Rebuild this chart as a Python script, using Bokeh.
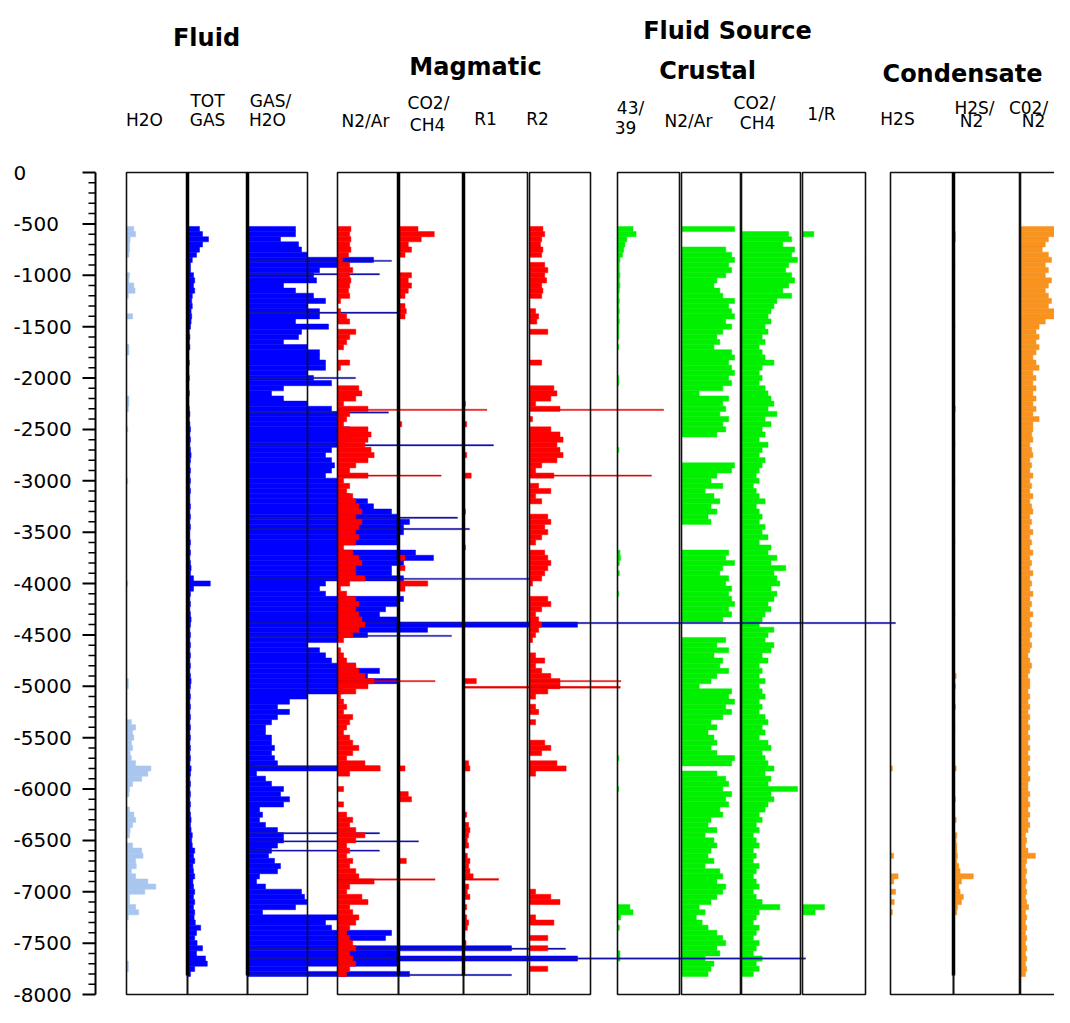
from bokeh.plotting import figure
from bokeh.models import Range1d
from bokeh.embed import file_html
from bokeh.resources import INLINE
from bokeh.core.properties import value

# ======================= DATA =======================
# depth bins (ft, negative = below datum), 50 ft apart
DEPTH = list(range(-550, -7801, -50))

# dense tracks: values as fraction of the track width (values > 1 overflow to the right)
TOT_GAS = [
    0.20, 0.25, 0.35, 0.25, 0.20, 0.15, 0.08, 0.05, 0.05, 0.10,
    0.12, 0.10, 0.12, 0.08, 0.07, 0.08, 0.06, 0.07, 0.06, 0.05,
    0.03, 0.04, 0.03, 0.04, 0.02, 0.02, 0.03, 0.02, 0.02, 0.03,
    0.02, 0.02, 0.03, 0.02, 0.02, 0.03, 0.04, 0.03, 0.04, 0.05,
    0.04, 0.05, 0.04, 0.05, 0.06, 0.05, 0.04, 0.05, 0.04, 0.05,
    0.04, 0.05, 0.04, 0.04, 0.05, 0.04, 0.05, 0.04, 0.05, 0.04,
    0.04, 0.05, 0.04, 0.05, 0.04, 0.05, 0.06, 0.05, 0.10, 0.38,
    0.10, 0.05, 0.04, 0.05, 0.04, 0.05, 0.06, 0.05, 0.04, 0.05,
    0.04, 0.05, 0.04, 0.05, 0.04, 0.05, 0.04, 0.05, 0.06, 0.05,
    0.04, 0.05, 0.04, 0.05, 0.04, 0.05, 0.04, 0.05, 0.04, 0.05,
    0.04, 0.05, 0.04, 0.05, 0.04, 0.06, 0.05, 0.04, 0.05, 0.04,
    0.05, 0.04, 0.05, 0.04, 0.05, 0.06, 0.05, 0.06, 0.08, 0.07,
    0.08, 0.12, 0.10, 0.12, 0.09, 0.10, 0.12, 0.09, 0.10, 0.12,
    0.10, 0.12, 0.10, 0.12, 0.11, 0.13, 0.22, 0.15, 0.12, 0.16,
    0.25, 0.15, 0.30, 0.33, 0.12, 0.05,
]

GAS_H2O = [
    0.80, 0.80, 0.55, 0.85, 0.90, 1.00, 2.10, 1.50, 1.20, 1.10,
    1.15, 0.60, 0.80, 1.10, 1.30, 1.00, 1.20, 1.20, 0.80, 1.35,
    0.90, 0.85, 0.60, 1.00, 1.20, 1.20, 1.30, 1.30, 1.00, 1.10,
    1.40, 0.60, 0.40, 0.60, 1.00, 1.40, 1.50, 1.60, 1.50, 1.70,
    1.80, 1.70, 1.60, 1.40, 1.30, 1.40, 1.45, 1.40, 1.30, 1.50,
    1.50, 1.50, 1.70, 2.00, 2.10, 2.40, 2.50, 2.70, 2.60, 2.60,
    2.50, 2.50, 1.50, 2.80, 3.10, 2.60, 2.40, 2.40, 2.60, 1.30,
    1.20, 1.30, 2.60, 2.50, 2.30, 2.20, 2.50, 5.50, 3.00, 2.00,
    1.50, 1.00, 1.20, 1.30, 1.40, 1.80, 2.20, 2.00, 2.50, 1.60,
    1.60, 1.00, 0.70, 0.50, 0.70, 0.50, 0.40, 0.30, 0.30, 0.40,
    0.40, 0.45, 0.40, 0.45, 0.50, 1.50, 0.15, 0.30, 0.40, 0.60,
    0.55, 0.70, 0.60, 0.20, 0.25, 0.20, 0.30, 0.50, 0.60, 0.60,
    0.50, 0.40, 0.35, 0.45, 0.55, 0.50, 0.20, 0.15, 0.30, 0.90,
    0.95, 1.00, 0.80, 0.25, 1.50, 1.30, 1.40, 2.40, 2.30, 1.70,
    4.40, 2.50, 5.50, 2.50, 1.00, 2.70,
]
GAS_H2O_SPIKE_DEPTH = [-860, -990, -1365, -2000, -2335, -2655, -3360, -3470, -3955,
                       -4385, -4510, -5780, -6430, -6510, -6600, -7555, -7650, -7810]
GAS_H2O_SPIKE_VALUE = [2.4, 2.2, 2.5, 1.8, 2.35, 4.1, 3.5, 3.7, 4.7,
                       10.8, 3.4, 2.2, 2.2, 2.85, 2.2, 5.3, 9.3, 4.4]

N2AR_MAG = [
    0.22, 0.20, 0.22, 0.20, 0.22, 0.18, 0.08, 0.20, 0.25, 0.20,
    0.22, 0.20, 0.18, 0.20, 0.05, 0.00, 0.05, 0.15, 0.20, 0.00,
    0.30, 0.20, 0.15, 0.10, 0.00, 0.00, 0.20, 0.05, 0.00, 0.00,
    0.00, 0.35, 0.40, 0.30, 0.10, 0.50, 0.20, 0.15, 0.10, 0.50,
    0.55, 0.50, 0.45, 0.55, 0.60, 0.50, 0.30, 0.20, 0.50, 0.10,
    0.20, 0.15, 0.25, 0.30, 0.35, 0.40, 0.30, 0.40, 0.35, 0.30,
    0.35, 0.30, 0.10, 0.25, 0.35, 0.40, 0.30, 0.30, 0.45, 0.20,
    0.05, 0.15, 0.30, 0.35, 0.30, 0.35, 0.40, 0.45, 0.35, 0.25,
    0.10, 0.00, 0.05, 0.10, 0.15, 0.30, 0.35, 0.45, 0.60, 0.50,
    0.30, 0.05, 0.10, 0.15, 0.10, 0.25, 0.20, 0.15, 0.10, 0.20,
    0.25, 0.35, 0.25, 0.15, 0.45, 0.70, 0.20, 0.00, 0.00, 0.10,
    0.00, 0.00, 0.10, 0.00, 0.15, 0.25, 0.20, 0.30, 0.45, 0.30,
    0.15, 0.20, 0.15, 0.25, 0.20, 0.30, 0.35, 0.60, 0.20, 0.15,
    0.40, 0.50, 0.20, 0.25, 0.35, 0.30, 0.20, 0.15, 0.20, 0.25,
    0.30, 0.20, 0.25, 0.30, 0.20, 0.15,
]
N2AR_MAG_SPIKE_DEPTH = [-2310, -2950, -4950, -6880]
N2AR_MAG_SPIKE_VALUE = [2.45, 1.7, 1.6, 1.6]

R2_VALUES = [
    0.22, 0.25, 0.20, 0.18, 0.22, 0.20, 0.00, 0.25, 0.30, 0.25,
    0.28, 0.20, 0.22, 0.20, 0.00, 0.00, 0.10, 0.15, 0.12, 0.00,
    0.30, 0.00, 0.00, 0.00, 0.00, 0.00, 0.20, 0.00, 0.00, 0.00,
    0.00, 0.40, 0.45, 0.35, 0.10, 0.50, 0.00, 0.05, 0.00, 0.35,
    0.50, 0.55, 0.45, 0.50, 0.55, 0.45, 0.20, 0.10, 0.40, 0.00,
    0.15, 0.35, 0.10, 0.20, 0.00, 0.00, 0.30, 0.35, 0.25, 0.30,
    0.20, 0.10, 0.00, 0.25, 0.30, 0.35, 0.30, 0.25, 0.20, 0.05,
    0.00, 0.00, 0.30, 0.35, 0.20, 0.10, 0.15, 0.20, 0.15, 0.10,
    0.05, 0.00, 0.00, 0.10, 0.25, 0.10, 0.20, 0.35, 0.50, 0.50,
    0.30, 0.10, 0.00, 0.10, 0.15, 0.00, 0.10, 0.00, 0.00, 0.00,
    0.25, 0.35, 0.20, 0.00, 0.45, 0.60, 0.10, 0.00, 0.00, 0.00,
    0.00, 0.00, 0.00, 0.00, 0.00, 0.00, 0.00, 0.00, 0.00, 0.00,
    0.00, 0.00, 0.00, 0.00, 0.00, 0.00, 0.00, 0.00, 0.00, 0.10,
    0.35, 0.50, 0.00, 0.00, 0.10, 0.40, 0.00, 0.00, 0.30, 0.00,
    0.30, 0.00, 0.00, 0.00, 0.30, 0.00,
]
R2_SPIKE_DEPTH = [-2310, -2950, -4950]
R2_SPIKE_VALUE = [2.2, 2.0, 1.5]

N2AR_CRU = [
    0.90, 0.00, 0.00, 0.00, 0.75, 0.85, 0.90, 0.80, 0.85, 0.75,
    0.60, 0.55, 0.65, 0.70, 0.90, 0.80, 0.85, 0.90, 0.75, 0.85,
    0.70, 0.60, 0.65, 0.55, 0.85, 0.90, 0.80, 0.85, 0.90, 0.80,
    0.85, 0.70, 0.30, 0.80, 0.70, 0.75, 0.65, 0.80, 0.70, 0.75,
    0.60, 0.00, 0.00, 0.00, 0.00, 0.00, 0.90, 0.85, 0.60, 0.50,
    0.70, 0.40, 0.55, 0.65, 0.50, 0.60, 0.45, 0.50, 0.00, 0.00,
    0.00, 0.00, 0.00, 0.80, 0.75, 0.90, 0.70, 0.65, 0.80, 0.75,
    0.85, 0.80, 0.85, 0.90, 0.80, 0.85, 0.70, 0.00, 0.00, 0.00,
    0.75, 0.60, 0.80, 0.55, 0.70, 0.65, 0.80, 0.60, 0.50, 0.30,
    0.85, 0.80, 0.90, 0.75, 0.85, 0.70, 0.50, 0.60, 0.45, 0.55,
    0.60, 0.50, 0.60, 0.90, 0.85, 0.00, 0.60, 0.75, 0.80, 0.70,
    0.85, 0.75, 0.80, 0.65, 0.70, 0.50, 0.45, 0.60, 0.40, 0.55,
    0.60, 0.50, 0.45, 0.55, 0.40, 0.65, 0.70, 0.60, 0.75, 0.70,
    0.60, 0.50, 0.30, 0.40, 0.25, 0.35, 0.45, 0.60, 0.70, 0.75,
    0.60, 0.65, 0.40, 0.55, 0.50, 0.45,
]

CO2CH4_CRU = [
    0.00, 0.80, 0.85, 0.70, 0.90, 0.85, 0.95, 0.80, 0.75, 0.85,
    0.90, 0.80, 0.70, 0.85, 0.60, 0.55, 0.50, 0.45, 0.50, 0.40,
    0.45, 0.35, 0.40, 0.30, 0.35, 0.40, 0.55, 0.35, 0.30, 0.35,
    0.30, 0.40, 0.45, 0.50, 0.55, 0.45, 0.60, 0.40, 0.50, 0.35,
    0.40, 0.30, 0.45, 0.35, 0.30, 0.40, 0.35, 0.30, 0.25, 0.30,
    0.20, 0.25, 0.30, 0.40, 0.25, 0.30, 0.35, 0.30, 0.40, 0.35,
    0.45, 0.30, 0.50, 0.45, 0.60, 0.50, 0.75, 0.55, 0.60, 0.65,
    0.50, 0.60, 0.55, 0.45, 0.50, 0.40, 0.35, 0.30, 0.55, 0.45,
    0.40, 0.55, 0.50, 0.35, 0.45, 0.30, 0.35, 0.30, 0.40, 0.30,
    0.35, 0.40, 0.30, 0.35, 0.30, 0.40, 0.45, 0.35, 0.40, 0.30,
    0.45, 0.50, 0.35, 0.40, 0.45, 0.55, 0.40, 0.50, 0.45, 0.95,
    0.50, 0.55, 0.45, 0.40, 0.30, 0.35, 0.25, 0.30, 0.20, 0.25,
    0.30, 0.20, 0.25, 0.20, 0.30, 0.25, 0.20, 0.25, 0.30, 0.20,
    0.25, 0.35, 0.65, 0.30, 0.25, 0.20, 0.30, 0.25, 0.20, 0.30,
    0.25, 0.20, 0.35, 0.25, 0.30, 0.20,
]

CO2_N2 = [
    0.60, 0.55, 0.45, 0.40, 0.35, 0.45, 0.50, 0.40, 0.45, 0.40,
    0.50, 0.45, 0.40, 0.45, 0.50, 0.45, 0.55, 0.65, 0.40, 0.30,
    0.25, 0.30, 0.25, 0.30, 0.25, 0.20, 0.25, 0.30, 0.20, 0.25,
    0.20, 0.25, 0.20, 0.25, 0.20, 0.25, 0.20, 0.30, 0.20, 0.20,
    0.18, 0.20, 0.15, 0.18, 0.20, 0.15, 0.18, 0.15, 0.20, 0.15,
    0.18, 0.15, 0.20, 0.15, 0.18, 0.20, 0.15, 0.18, 0.15, 0.20,
    0.15, 0.18, 0.15, 0.20, 0.15, 0.18, 0.15, 0.20, 0.15, 0.18,
    0.15, 0.20, 0.15, 0.18, 0.15, 0.20, 0.15, 0.18, 0.15, 0.18,
    0.15, 0.18, 0.15, 0.12, 0.15, 0.18, 0.15, 0.12, 0.15, 0.15,
    0.12, 0.15, 0.12, 0.15, 0.12, 0.15, 0.12, 0.15, 0.12, 0.15,
    0.12, 0.15, 0.12, 0.15, 0.12, 0.15, 0.12, 0.15, 0.12, 0.12,
    0.15, 0.12, 0.15, 0.12, 0.15, 0.12, 0.15, 0.12, 0.08, 0.10,
    0.08, 0.12, 0.24, 0.10, 0.08, 0.10, 0.08, 0.10, 0.08, 0.10,
    0.08, 0.10, 0.13, 0.08, 0.10, 0.08, 0.10, 0.08, 0.10, 0.08,
    0.10, 0.08, 0.10, 0.08, 0.10, 0.08,
]

# sparse tracks: (depth, value) pairs
H2O_DEPTH = [-550, -600, -650, -700, -750, -800, -1000, -1050, -1100, -1150,
             -1200, -1400, -1700, -1750, -2200, -2250, -2300, -2500, -3000, -4000,
             -4950, -5000, -5350, -5400, -5450, -5500, -5550, -5600, -5650, -5700,
             -5750, -5800, -5850, -5900, -5950, -6000, -6050, -6200, -6250, -6300,
             -6350, -6400, -6450, -6550, -6600, -6650, -6700, -6750, -6800, -6850,
             -6900, -6950, -7000, -7050, -7100, -7150, -7200, -7250, -7700, -7750]
H2O_VALUE = [0.12, 0.15, 0.06, 0.05, 0.05, 0.04, 0.05, 0.04, 0.12, 0.14,
             0.03, 0.10, 0.04, 0.04, 0.04, 0.04, 0.03, 0.02, 0.02, 0.02,
             0.03, 0.03, 0.08, 0.15, 0.10, 0.12, 0.08, 0.10, 0.06, 0.08,
             0.15, 0.40, 0.35, 0.25, 0.10, 0.05, 0.04, 0.05, 0.12, 0.15,
             0.10, 0.06, 0.05, 0.10, 0.25, 0.27, 0.15, 0.16, 0.08, 0.15,
             0.35, 0.48, 0.30, 0.05, 0.05, 0.15, 0.20, 0.03, 0.03, 0.03]

CO2CH4_MAG_DEPTH = [-550, -600, -650, -700, -750, -800, -1000, -1050, -1100, -1150,
                    -1200, -1300, -1350, -1400, -2450, -3750, -3850, -4000, -4050,
                    -5800, -6050, -6100, -6700]
CO2CH4_MAG_VALUE = [0.30, 0.55, 0.35, 0.15, 0.20, 0.10, 0.20, 0.15, 0.20, 0.15,
                    0.10, 0.10, 0.12, 0.10, 0.05, 0.10, 0.10, 0.45, 0.10,
                    0.10, 0.15, 0.20, 0.12]

R1_DEPTH = [-2250, -2450, -2750, -2950, -3300, -3650, -4950, -5750, -5800, -6250,
            -6350, -6400, -6450, -6500, -6550, -6650, -6700, -6750, -6800, -6850,
            -6950, -7000, -7050, -7150, -7250, -7300, -7350, -7500]
R1_VALUE = [0.03, 0.05, 0.05, 0.12, 0.03, 0.03, 0.20, 0.08, 0.10, 0.05,
            0.08, 0.10, 0.08, 0.06, 0.08, 0.06, 0.10, 0.08, 0.10, 0.15,
            0.08, 0.06, 0.10, 0.05, 0.05, 0.08, 0.06, 0.04]
R1_SPIKE_DEPTH = [-5010, -6880]
R1_SPIKE_VALUE = [2.45, 0.55]

AR4339_DEPTH = [-550, -600, -650, -700, -750, -800, -850, -900, -950, -1000,
                -1050, -1100, -1150, -1200, -1250, -1300, -1350, -1400, -1450, -1500,
                -1550, -1600, -1700, -2000, -2050, -2700, -3700, -3750, -3800, -3900,
                -4100, -5700, -6000, -7150, -7200, -7250, -7350, -7600, -7650]
AR4339_VALUE = [0.25, 0.30, 0.15, 0.12, 0.10, 0.08, 0.04, 0.03, 0.03, 0.04,
                0.03, 0.04, 0.03, 0.02, 0.03, 0.02, 0.03, 0.02, 0.03, 0.02,
                0.02, 0.02, 0.02, 0.02, 0.02, 0.02, 0.04, 0.05, 0.03, 0.03,
                0.02, 0.02, 0.02, 0.20, 0.25, 0.05, 0.03, 0.04, 0.04]

INV_R_DEPTH = [-600, -7150, -7200]
INV_R_VALUE = [0.18, 0.35, 0.20]

H2S_DEPTH = [-5800, -6650, -6850, -6900, -7000, -7100, -7200]
H2S_VALUE = [0.03, 0.05, 0.12, 0.05, 0.08, 0.06, 0.03]

H2S_N2_DEPTH = [-600, -650, -900, -1500, -2300, -2650, -3000, -3600, -4300, -4900,
                -5000, -5200, -5400, -5800, -6100, -6300, -6450, -6500, -6550, -6600,
                -6650, -6700, -6750, -6800, -6850, -6900, -6950, -7000, -7050, -7100,
                -7150, -7200]
H2S_N2_VALUE = [0.03, 0.03, 0.02, 0.02, 0.03, 0.02, 0.02, 0.02, 0.02, 0.04,
                0.03, 0.03, 0.02, 0.04, 0.03, 0.04, 0.05, 0.04, 0.05, 0.05,
                0.06, 0.05, 0.08, 0.10, 0.30, 0.12, 0.08, 0.10, 0.15, 0.12,
                0.06, 0.05]

AXIS_TICKS = [0, -500, -1000, -1500, -2000, -2500, -3000, -3500, -4000,
              -4500, -5000, -5500, -6000, -6500, -7000, -7500, -8000]
AXIS_LABELS = ["0", "-500", "-1000", "-1500", "-2000", "-2500", "-3000", "-3500", "-4000",
               "-4500", "-5000", "-5500", "-6000", "-6500", "-7000", "-7500", "-8000"]

for arr in (TOT_GAS, GAS_H2O, N2AR_MAG, R2_VALUES, N2AR_CRU, CO2CH4_CRU, CO2_N2):
    assert len(arr) == len(DEPTH), len(arr)
for a, b in ((H2O_DEPTH, H2O_VALUE), (CO2CH4_MAG_DEPTH, CO2CH4_MAG_VALUE), (R1_DEPTH, R1_VALUE),
             (AR4339_DEPTH, AR4339_VALUE), (INV_R_DEPTH, INV_R_VALUE), (H2S_DEPTH, H2S_VALUE),
             (H2S_N2_DEPTH, H2S_N2_VALUE), (GAS_H2O_SPIKE_DEPTH, GAS_H2O_SPIKE_VALUE)):
    assert len(a) == len(b), (len(a), len(b))

# ======================= LAYOUT =======================
W, H = 1054, 1007
TOP_PX = 172.0                    # canvas y of depth 0
PX_PER_FT = (994.0 - TOP_PX) / 8000.0   # depth -8000 at canvas y 994


def Y(canvas_y):
    return (TOP_PX - canvas_y) / PX_PER_FT


TRACKS = {
    "h2o": (126, 187), "totgas": (187, 247), "gash2o": (247, 307),
    "n2ar_m": (337, 398), "co2ch4_m": (398, 463), "r1": (463, 527), "r2": (529, 590),
    "r4339": (617, 679), "n2ar_c": (681, 740), "co2ch4_c": (741, 800), "invr": (802, 865),
    "h2s": (890, 953), "h2sn2": (953, 1019), "co2n2": (1020, 1082),
}

p = figure(width=W, height=H, output_backend="svg", toolbar_location=None, title=None,
           x_range=Range1d(0, W), y_range=Range1d(Y(H), Y(0)),
           x_axis_location=None, y_axis_location=None, min_border=0)
p.outline_line_color = None
p.xgrid.visible = False
p.ygrid.visible = False
p.background_fill_color = "white"
p.border_fill_color = "white"

BLUE = "#0000FF"
BLUE_LINE = "#1414A8"
LIGHT_BLUE = "#A9C6EE"
RED = "#FF0000"
RED_LINE = "#E80000"
GREEN = "#00F000"
ORANGE = "#F7931E"


def draw(depths, vals, track, color, height=50, lw=0.5):
    l, r = TRACKS[track]
    w = r - l
    ys = [d for d, v in zip(depths, vals) if v > 0]
    rs = [l + v * w for v in vals if v > 0]
    p.hbar(y=ys, height=height, left=l, right=rs,
           fill_color=color, line_color=color, line_width=lw)


# green (crustal)
draw(AR4339_DEPTH, AR4339_VALUE, "r4339", GREEN)
draw(DEPTH, N2AR_CRU, "n2ar_c", GREEN)
draw(DEPTH, CO2CH4_CRU, "co2ch4_c", GREEN)
draw(INV_R_DEPTH, INV_R_VALUE, "invr", GREEN)
# orange (condensate)
draw(H2S_DEPTH, H2S_VALUE, "h2s", ORANGE)
draw(H2S_N2_DEPTH, H2S_N2_VALUE, "h2sn2", ORANGE)
draw(DEPTH, CO2_N2, "co2n2", ORANGE)
# fluid
draw(H2O_DEPTH, H2O_VALUE, "h2o", LIGHT_BLUE)
draw(DEPTH, TOT_GAS, "totgas", BLUE)
draw(DEPTH, GAS_H2O, "gash2o", BLUE)
draw(GAS_H2O_SPIKE_DEPTH, GAS_H2O_SPIKE_VALUE, "gash2o", BLUE_LINE, height=14, lw=0.3)
# magmatic
draw(DEPTH, N2AR_MAG, "n2ar_m", RED)
draw(CO2CH4_MAG_DEPTH, CO2CH4_MAG_VALUE, "co2ch4_m", RED)
draw(R1_DEPTH, R1_VALUE, "r1", RED)
draw(DEPTH, R2_VALUES, "r2", RED)
draw(N2AR_MAG_SPIKE_DEPTH, N2AR_MAG_SPIKE_VALUE, "n2ar_m", RED_LINE, height=14, lw=0.3)
draw(R1_SPIKE_DEPTH, R1_SPIKE_VALUE, "r1", RED_LINE, height=18, lw=0.3)
draw(R2_SPIKE_DEPTH, R2_SPIKE_VALUE, "r2", RED_LINE, height=14, lw=0.3)

# track boxes
lefts = [v[0] for v in TRACKS.values()]
rights = [v[1] for v in TRACKS.values()]
p.quad(left=lefts, right=rights, top=0, bottom=-8000,
       fill_color=None, line_color="#111111", line_width=1.6)
# heavy zero lines
thick = [TRACKS[k][0] for k in ("totgas", "gash2o", "co2ch4_m", "r1", "h2sn2")]
p.segment(x0=thick, y0=0, x1=thick, y1=-7815, line_color="black", line_width=3.5)

# depth axis
AX_X = 95
p.segment(x0=[AX_X], y0=[0], x1=[AX_X], y1=[-8000], line_color="black", line_width=2)
p.segment(x0=AX_X - 13, y0=AXIS_TICKS, x1=AX_X, y1=AXIS_TICKS, line_color="black", line_width=2)
minor = [-d for d in range(100, 8000, 100) if d % 500 != 0]
p.segment(x0=AX_X - 7, y0=minor, x1=AX_X, y1=minor, line_color="black", line_width=1.5)
p.text(x=13, y=AXIS_TICKS, text=AXIS_LABELS, text_font=value("DejaVu Sans"),
       text_font_size="20px", text_align="left", text_baseline="middle", text_color="black")

# headers
TITLES = ["Fluid", "Magmatic", "Fluid Source", "Crustal", "Condensate"]
TITLE_X = [206, 475, 727, 707, 962]
TITLE_BASE = [37, 66, 30, 70, 73]
p.text(x=TITLE_X, y=[Y(b) for b in TITLE_BASE], text=TITLES,
       text_font=value("DejaVu Sans"), text_font_style="bold", text_font_size="24px",
       text_align="center", text_baseline="alphabetic", text_color="black")

SUB_TEXT = ["H2O", "TOT", "GAS", "GAS/", "H2O", "N2/Ar", "CO2/", "CH4", "R1", "R2",
            "43/", "39", "N2/Ar", "CO2/", "CH4", "1/R", "H2S", "H2S/", "N2", "C02/", "N2"]
SUB_X = [144, 207, 207, 270, 267, 365, 428, 427, 485, 537,
         630, 625, 688, 754, 757, 821, 897, 974, 971, 1028, 1033]
SUB_BASE = [119, 100, 119, 100, 119, 120, 102, 124, 118, 118,
            107, 127, 120, 102, 122, 113, 118, 107, 120, 107, 120]
p.text(x=SUB_X, y=[Y(b) for b in SUB_BASE], text=SUB_TEXT,
       text_font=value("DejaVu Sans"), text_font_size="17px",
       text_align="center", text_baseline="alphabetic", text_color="black")

open("out.html", "w").write(file_html(p, INLINE))
